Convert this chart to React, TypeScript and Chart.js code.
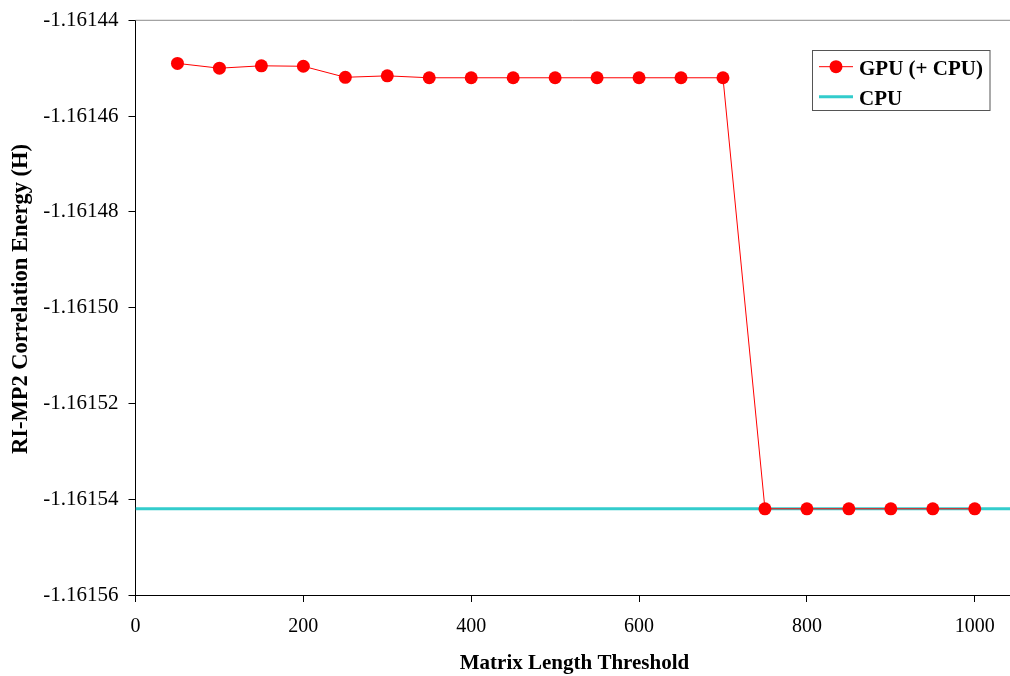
import React, { useEffect, useRef } from "react";
import { Chart, registerables } from "chart.js";

Chart.register(...registerables);

const thresholds = [50, 100, 150, 200, 250, 300, 350, 400, 450, 500, 550, 600, 650, 700, 750, 800, 850, 900, 950, 1000];
const gpuEnergy = [
  -1.161449, -1.16145, -1.1614495, -1.1614496, -1.1614519, -1.1614516, -1.161452, -1.161452, -1.161452, -1.161452,
  -1.161452, -1.161452, -1.161452, -1.161452, -1.161542, -1.161542, -1.161542, -1.161542, -1.161542, -1.161542,
];
const cpuX = [0, 1042];
const cpuEnergy = [-1.161542, -1.161542];
const xTicks = [0, 200, 400, 600, 800, 1000];
const yTicks = [-1.16156, -1.16154, -1.16152, -1.1615, -1.16148, -1.16146, -1.16144];
const seriesLabels = ["GPU (+ CPU)", "CPU"];
const xTitle = "Matrix Length Threshold";
const yTitle = "RI-MP2 Correlation Energy (H)";

const SERIF = '"Liberation Serif", "Times New Roman", serif';
const RED = "#FF0000";
const TEAL = "#33CCCC";

const decorPlugin = {
  id: "decor",
  afterDraw(chart: any) {
    const { ctx, chartArea } = chart;
    ctx.save();
    // top border
    ctx.strokeStyle = "#8c8c8c";
    ctx.lineWidth = 1;
    ctx.beginPath();
    ctx.moveTo(chartArea.left, chartArea.top);
    ctx.lineTo(chartArea.right, chartArea.top);
    ctx.stroke();

    // axis titles
    ctx.fillStyle = "#000";
    ctx.font = `bold 21px ${SERIF}`;
    ctx.textAlign = "center";
    ctx.textBaseline = "alphabetic";
    ctx.fillText(xTitle, 574.5, 669);

    ctx.save();
    ctx.translate(27, 299);
    ctx.rotate(-Math.PI / 2);
    ctx.font = `bold 22.5px ${SERIF}`;
    ctx.fillText(yTitle, 0, 0);
    ctx.restore();

    // legend
    const bx = 812.5, by = 50.5, bw = 177.5, bh = 60;
    ctx.fillStyle = "#fff";
    ctx.fillRect(bx, by, bw, bh);
    ctx.strokeStyle = "#555";
    ctx.lineWidth = 1;
    ctx.strokeRect(bx, by, bw, bh);

    // GPU entry
    ctx.strokeStyle = RED;
    ctx.lineWidth = 1;
    ctx.beginPath();
    ctx.moveTo(819, 66.7);
    ctx.lineTo(853, 66.7);
    ctx.stroke();
    ctx.fillStyle = RED;
    ctx.beginPath();
    ctx.arc(836, 66.7, 6.5, 0, Math.PI * 2);
    ctx.fill();

    // CPU entry
    ctx.strokeStyle = TEAL;
    ctx.lineWidth = 3;
    ctx.beginPath();
    ctx.moveTo(819, 96.7);
    ctx.lineTo(853, 96.7);
    ctx.stroke();

    ctx.fillStyle = "#000";
    ctx.font = `bold 21px ${SERIF}`;
    ctx.textAlign = "left";
    ctx.textBaseline = "alphabetic";
    ctx.fillText(seriesLabels[0], 859, 75);
    ctx.fillText(seriesLabels[1], 859, 104.5);
    ctx.restore();
  },
};

export default function App() {
  const ref = useRef<HTMLCanvasElement>(null);

  useEffect(() => {
    const canvas = ref.current;
    if (!canvas) return;
    const chart = new Chart(canvas, {
      type: "line",
      data: {
        datasets: [
          {
            label: seriesLabels[0],
            data: thresholds.map((x, i) => ({ x, y: gpuEnergy[i] })),
            borderColor: RED,
            backgroundColor: RED,
            borderWidth: 1,
            pointRadius: 6.5,
            pointBorderWidth: 0,
            pointBackgroundColor: RED,
            tension: 0,
            order: 0,
          },
          {
            label: seriesLabels[1],
            data: cpuX.map((x, i) => ({ x, y: cpuEnergy[i] })),
            borderColor: TEAL,
            backgroundColor: TEAL,
            borderWidth: 3,
            pointRadius: 0,
            tension: 0,
            order: 1,
          },
        ],
      },
      options: {
        animation: false,
        responsive: false,
        maintainAspectRatio: false,
        layout: { autoPadding: false, padding: { top: 20.3, left: 0, right: 0, bottom: 0 } },
        plugins: {
          legend: { display: false },
          tooltip: { enabled: false },
        },
        scales: {
          x: {
            type: "linear",
            min: 0,
            max: 1042,
            afterBuildTicks: (s: any) => {
              s.ticks = xTicks.map((v) => ({ value: v }));
            },
            afterFit: (s: any) => {
              s.height = 81;
              s.paddingLeft = 0;
              s.paddingRight = 0;
            },
            grid: { drawOnChartArea: false, drawTicks: true, tickLength: 7, color: "#000" },
            border: { color: "#000", width: 1 },
            ticks: {
              color: "#000",
              font: { family: SERIF, size: 20 },
              padding: 13,
              maxRotation: 0,
              callback: (v: any) => String(v),
            },
          },
          y: {
            type: "linear",
            min: -1.16156,
            max: -1.16144,
            afterBuildTicks: (s: any) => {
              s.ticks = yTicks.map((v) => ({ value: v }));
            },
            afterFit: (s: any) => {
              s.width = 135.5;
              s.paddingTop = 0;
              s.paddingBottom = 0;
            },
            grid: { drawOnChartArea: false, drawTicks: true, tickLength: 7, color: "#000" },
            border: { color: "#000", width: 1 },
            ticks: {
              color: "#000",
              font: { family: SERIF, size: 21 },
              padding: 10,
              callback: (v: any) => Number(v).toFixed(5),
            },
          },
        },
      },
      plugins: [decorPlugin],
    });
    return () => chart.destroy();
  }, []);

  return (
    <div style={{ position: "absolute", left: 0, top: 0, width: 1010, height: 676, background: "#fff" }}>
      <canvas ref={ref} width={1010} height={676} style={{ display: "block", width: 1010, height: 676 }} />
    </div>
  );
}
